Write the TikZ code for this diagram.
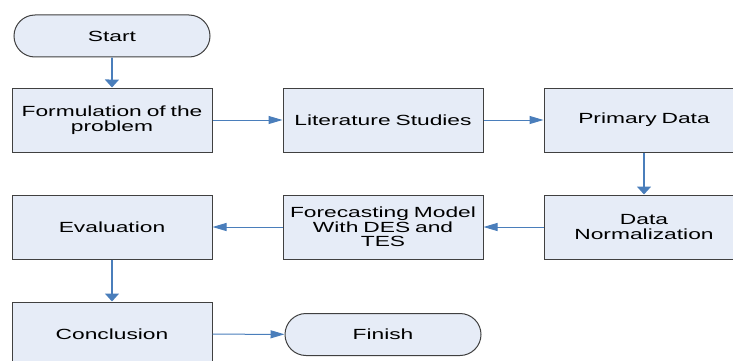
\documentclass[tikz,border=0pt]{standalone}
\usepackage{fontspec}
\setmainfont{Liberation Sans}[FakeStretch=1.55]
\usetikzlibrary{arrows.meta,shapes.misc}
\definecolor{boxfill}{RGB}{230,236,247}
\definecolor{boxline}{RGB}{64,64,64}
\definecolor{flowblue}{RGB}{74,126,187}

\begin{document}
\begin{tikzpicture}[x=1pt,y=-1pt,font=\fontsize{14.7}{14.5}\selectfont,
  stepbox/.style={draw=boxline,fill=boxfill,line width=1pt,minimum width=200pt,minimum height=64pt,inner sep=2pt,align=center,text width=196pt},
  terminal/.style={rounded rectangle,draw=boxline,fill=boxfill,line width=1pt,minimum width=200pt,minimum height=42pt,inner sep=2pt},
  hflow/.style={draw=flowblue,line width=1pt,-{Triangle[length=14pt,width=8pt]}},
  vflow/.style={draw=flowblue,line width=1.6pt,-{Triangle[length=8pt,width=14pt]}}]
\useasboundingbox (0,0) rectangle (733,361);
\node[terminal] (start) at (112,36) {Start};
\node[stepbox] (form) at (112,120) {Formulation of the\\problem};
\node[stepbox] (lit) at (383,120) {Literature Studies};
\node[stepbox] (prim) at (644,120) {Primary Data};
\node[stepbox] (norm) at (644,227) {Data\\Normalization};
\node[stepbox] (fore) at (383,227) {Forecasting Model\\With DES and\\TES};
\node[stepbox] (eval) at (112,227) {Evaluation};
\node[stepbox] (concl) at (112,334) {Conclusion};
\node[terminal] (fin) at (383,334.5) {Finish};
\draw[vflow] (start) -- (form);
\draw[hflow] (form) -- (lit);
\draw[hflow] (lit) -- (prim);
\draw[vflow] (prim) -- (norm);
\draw[hflow] (norm) -- (fore);
\draw[hflow] (fore) -- (eval);
\draw[vflow] (eval) -- (concl);
\draw[hflow] (concl) -- (fin);
\end{tikzpicture}
\end{document}
